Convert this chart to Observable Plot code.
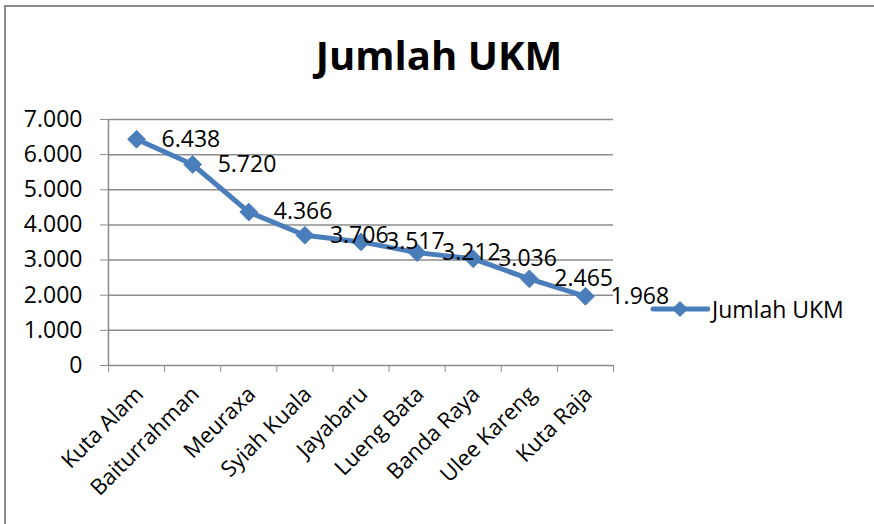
<!DOCTYPE html>
<html>
<head>
<meta charset="utf-8">
<script src="https://cdn.jsdelivr.net/npm/d3@7"></script>
<script src="https://cdn.jsdelivr.net/npm/@observablehq/plot@0.6"></script>
<style>
  html, body { margin: 0; padding: 0; background: #fff; }
  #wrap { position: relative; width: 874px; height: 524px; overflow: hidden; font-family: "Open Sans", sans-serif; }
  #border { position: absolute; left: 4px; top: 5px; width: 900px; height: 600px; border-top: 2px solid #8c8c8c; border-left: 2px solid #8c8c8c; }
  #title { position: absolute; left: 0; width: 878px; top: 35px; text-align: center; font-weight: bold; font-size: 40px; line-height: 40px; color: #000; }
  #legend { position: absolute; left: 650px; top: 297px; height: 24px; display: flex; align-items: center; font-size: 23px; line-height: 23px; color: #000; }
  #chart { position: absolute; left: 0; top: 0; }
</style>
</head>
<body>
<div id="wrap">
  <div id="border"></div>
  <div id="chart"></div>
  <div id="title"></div>
  <div id="legend"></div>
</div>
<script>
const title = "Jumlah UKM";
const seriesName = "Jumlah UKM";
const categories = ["Kuta Alam", "Baiturrahman", "Meuraxa", "Syiah Kuala", "Jayabaru", "Lueng Bata", "Banda Raya", "Ulee Kareng", "Kuta Raja"];
const values = [6438, 5720, 4366, 3706, 3517, 3212, 3036, 2465, 1968];
const yTicks = [0, 1000, 2000, 3000, 4000, 5000, 6000, 7000];

const blue = "#4a7ebb";
const grid = "#8c8c8c";
const fmt = d3.formatLocale({decimal: ",", thousands: ".", grouping: [3], currency: ["", ""]}).format(",");

const data = categories.map((c, i) => ({i, c, v: values[i]}));
const boundaries = d3.range(categories.length + 1).map(k => k - 0.5);

const plot = Plot.plot({
  width: 874,
  height: 524,
  marginLeft: 108,
  marginRight: 261,
  marginTop: 119,
  marginBottom: 159,
  style: {fontFamily: "Open Sans", fontSize: "23px", color: "#000", background: "transparent", overflow: "visible"},
  x: {type: "linear", domain: [-0.5, categories.length - 0.5]},
  y: {domain: [0, 7000]},
  marks: [
    Plot.ruleY(yTicks, {stroke: grid, strokeWidth: 1.5}),
    Plot.ruleX([-0.5], {y1: 0, y2: 7000, stroke: grid, strokeWidth: 1.5}),
    Plot.axisY({ticks: yTicks, tickSize: 8, tickPadding: 18, tickFormat: d => fmt(d), stroke: grid, fill: "#000", fontSize: 23, label: null}),
    Plot.axisX({ticks: boundaries, tickSize: 7, tickFormat: () => "", stroke: grid, label: null}),
    Plot.text(data, {x: "i", frameAnchor: "bottom", text: "c", rotate: -45, textAnchor: "end", dx: 8, dy: 30, fontSize: 22, fill: "#000"}),
    Plot.line(data, {x: "i", y: "v", stroke: blue, strokeWidth: 5, strokeLinejoin: "round"}),
    Plot.dot(data, {x: "i", y: "v", symbol: "diamond2", r: 8, fill: blue, stroke: blue, strokeWidth: 1}),
    Plot.text(data, {x: "i", y: "v", text: d => fmt(d.v), textAnchor: "start", dx: 25, fontSize: 23, fill: "#000"})
  ]
});
document.getElementById("chart").appendChild(plot);

document.getElementById("title").textContent = title;
const legend = document.getElementById("legend");
legend.innerHTML = `<svg width="60" height="24" style="display:block"><line x1="3" y1="12" x2="58" y2="12" stroke="${blue}" stroke-width="5" stroke-linecap="round"/><polygon points="30,4 38,12 30,20 22,12" fill="${blue}"/></svg><span style="margin-left:2px">${seriesName}</span>`;
</script>
</body>
</html>
